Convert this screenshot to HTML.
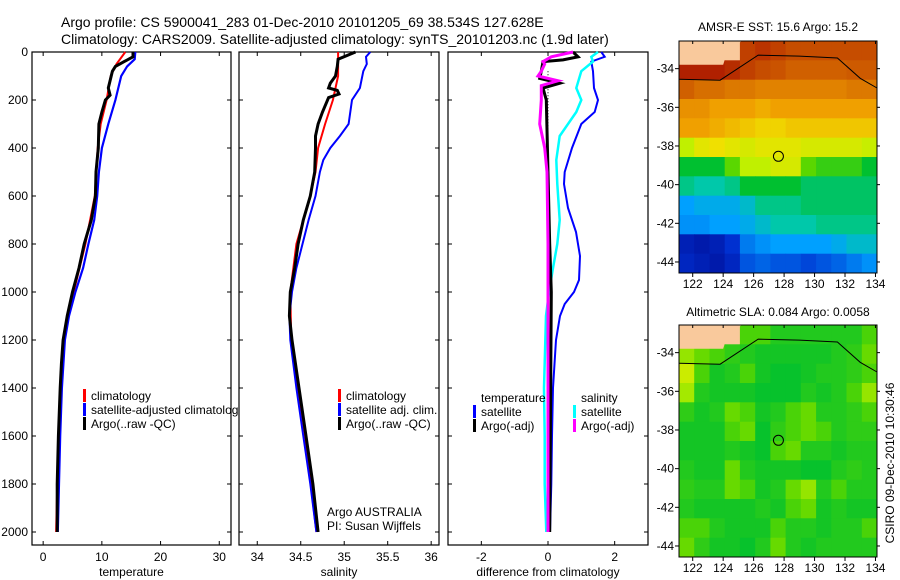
<!DOCTYPE html>
<html><head><meta charset="utf-8"><style>
body{margin:0;background:#fff;}
svg{display:block;font-family:"Liberation Sans",sans-serif;}
text{fill:#000;}
</style></head><body>
<svg id="fig" width="900" height="580" viewBox="0 0 900 580">
<defs><clipPath id="c1"><rect x="0" y="0" width="238" height="580"/></clipPath></defs>
<text x="61" y="27" font-size="14">Argo profile: CS 5900041_283 01-Dec-2010 20101205_69 38.534S 127.628E</text>
<text x="61" y="44" font-size="14">Climatology: CARS2009. Satellite-adjusted climatology: synTS_20101203.nc (1.9d later)</text>
<g id="g1" clip-path="url(#c1)"></g>
<g id="g2"></g>
<g id="g3"></g>
<g id="m1"></g>
<g id="m2"></g>
<text x="778" y="31" font-size="12" text-anchor="middle">AMSR-E SST: 15.6 Argo: 15.2</text>
<text x="778" y="316" font-size="12" text-anchor="middle">Altimetric SLA: 0.084 Argo: 0.0058</text>
<text transform="translate(894,463) rotate(-90)" font-size="12" text-anchor="middle">CSIRO 09-Dec-2010 10:30:46</text>
</svg>
<script>
const tDepth = [0,20,40,60,80,150,180,200,250,300,400,500,600,700,800,900,1000,1100,1200,1300,1400,1600,1800,2000];
const tArgo  = [15.3,15.3,13.8,12.3,11.8,11.1,11.4,10.6,10,9.5,9.4,9,8.9,8.2,7,6.1,5,4.1,3.4,3.1,2.9,2.6,2.4,2.4];
const tClimDepth = [0,50,100,200,300,400,600,800,1000,1200,1400,1600,2000];
const tClim  = [14,12.5,11.5,10.8,9.8,9.3,8.8,7.2,5.2,3.5,3,2.6,2.2];
const tSatDepth = [0,30,60,100,200,300,400,500,600,700,800,900,1000,1100,1200,1400,1600,1800,2000];
const tSat   = [15.7,15.6,14.3,13.3,12.3,11.1,10,9.5,9.2,8.7,7.7,6.8,5.5,4.4,3.7,3.2,2.9,2.7,2.5];

const sArgoDepth = [0,30,60,100,130,150,160,175,190,250,300,350,400,500,600,700,800,900,1000,1100,1200,1400,1600,1800,2000];
const sArgo = [35.13,34.93,34.92,34.9,34.84,34.82,34.92,34.94,34.82,34.75,34.7,34.67,34.67,34.66,34.61,34.53,34.47,34.43,34.38,34.37,34.4,34.48,34.56,34.64,34.7];
const sClimDepth = [0,100,200,300,400,500,600,800,1000,1200,1600,2000];
const sClim = [34.93,34.93,34.87,34.78,34.7,34.67,34.61,34.45,34.38,34.39,34.55,34.68];
const sSatDepth = [0,20,50,80,150,200,300,350,400,450,500,600,700,800,900,1000,1100,1200,1400,1600,1800,2000];
const sSat = [35.3,35.25,35.26,35.22,35.18,35.09,35.05,34.95,34.84,34.76,34.72,34.67,34.59,34.52,34.45,34.4,34.37,34.38,34.45,34.53,34.61,34.68];

const dTArgoDepth = [0,20,33,40,80,110,130,150,200,500,800,1000,2000];
const dTArgo = [0.75,0.9,0.45,-0.15,-0.2,-0.25,0.35,-0.15,-0.05,0,0.05,0.1,0.05];
const dSArgoDepth = [0,20,40,50,80,100,120,140,200,300,400,500,800,1000,2000];
const dSArgo = [0.75,0.1,-0.15,-0.1,-0.2,-0.3,0.3,-0.2,-0.2,-0.25,-0.1,-0.03,0,0,0];
const dSSatDepth = [0,20,40,80,150,200,250,350,450,550,700,800,900,1000,1100,1400,1600,1800,2000];
const dSSat = [1.5,1.3,1.35,1.0,0.85,1.0,0.85,0.35,0.25,0.28,0.35,0.28,0.15,0.03,-0.06,-0.12,-0.1,-0.1,-0.05];
const dTSatDepth = [0,20,40,80,150,200,250,300,400,500,550,650,750,850,950,1000,1050,1100,1200,1400,1600,1800,2000];
const dTSat = [1.6,1.7,1.3,1.35,1.38,1.5,1.4,1.0,0.72,0.5,0.48,0.6,0.84,0.96,0.93,0.78,0.5,0.36,0.24,0.15,0.12,0.1,0.06];

const depthTicks = [0,200,400,600,800,1000,1200,1400,1600,1800,2000];
const tTicks = [0,10,20,30];
const sTicks = [34,34.5,35,35.5,36];
const sTickLabels = ["34","34.5","35","35.5","36"];
const dTicks = [-2,0,2];

const sstRows = [
[null,null,null,null,0.9,0.92,0.9,0.88,0.88,0.88,0.88,0.88,0.88],
[0.95,0.95,0.95,0.93,0.9,0.88,0.87,0.85,0.85,0.85,0.85,0.86,0.86],
[0.85,0.82,0.82,0.8,0.8,0.78,0.78,0.78,0.78,0.78,0.78,0.8,0.8],
[0.75,0.75,0.72,0.72,0.72,0.7,0.72,0.72,0.72,0.72,0.72,0.72,0.72],
[0.72,0.72,0.7,0.68,0.66,0.64,0.64,0.66,0.66,0.66,0.66,0.66,0.66],
[0.55,0.6,0.62,0.6,0.58,0.6,0.6,0.6,0.58,0.58,0.58,0.58,0.56],
[0.45,0.45,0.45,0.5,0.55,0.55,0.58,0.58,0.5,0.48,0.48,0.48,0.45],
[0.4,0.38,0.38,0.4,0.45,0.45,0.45,0.45,0.42,0.42,0.42,0.42,0.42],
[0.3,0.32,0.32,0.32,0.35,0.4,0.4,0.4,0.42,0.42,0.42,0.42,0.42],
[0.28,0.28,0.3,0.3,0.32,0.35,0.38,0.38,0.38,0.4,0.4,0.4,0.4],
[0.1,0.08,0.1,0.15,0.25,0.28,0.3,0.3,0.3,0.3,0.32,0.35,0.35],
[0.12,0.1,0.08,0.12,0.2,0.22,0.2,0.2,0.18,0.2,0.22,0.25,0.28]];
const slaRows = [
[null,null,null,null,0.5,0.5,0.47,0.47,0.47,0.47,0.47,0.47,0.5],
[0.55,0.52,0.5,0.48,0.47,0.46,0.46,0.46,0.46,0.46,0.47,0.48,0.52],
[0.6,0.5,0.46,0.47,0.5,0.46,0.45,0.45,0.46,0.47,0.47,0.48,0.5],
[0.56,0.47,0.46,0.46,0.46,0.45,0.45,0.45,0.47,0.46,0.47,0.5,0.55],
[0.48,0.46,0.47,0.52,0.5,0.46,0.47,0.5,0.52,0.47,0.47,0.48,0.5],
[0.46,0.46,0.46,0.5,0.52,0.45,0.48,0.5,0.52,0.5,0.47,0.48,0.48],
[0.46,0.46,0.46,0.47,0.46,0.45,0.5,0.52,0.47,0.47,0.46,0.47,0.47],
[0.47,0.46,0.46,0.52,0.47,0.46,0.46,0.46,0.45,0.45,0.47,0.48,0.47],
[0.48,0.47,0.47,0.52,0.5,0.46,0.47,0.52,0.55,0.47,0.5,0.47,0.47],
[0.47,0.46,0.46,0.46,0.46,0.47,0.46,0.5,0.52,0.46,0.47,0.46,0.46],
[0.5,0.5,0.47,0.46,0.46,0.46,0.5,0.47,0.47,0.46,0.47,0.47,0.5],
[0.52,0.48,0.46,0.46,0.45,0.47,0.52,0.47,0.46,0.47,0.47,0.47,0.47]];
const lonTicks = [122,124,126,128,130,132,134];
const latTicks = [-34,-36,-38,-40,-42,-44];
const floatLon = 127.628, floatLat = -38.534;
const coastLon = [121.1,123.8,126.3,129,131.5,133,134.1];
const coastLat = [-34.55,-34.6,-33.3,-33.35,-33.45,-34.5,-35.0];

const NS="http://www.w3.org/2000/svg";
function mk(p,tag,attrs){const e=document.createElementNS(NS,tag);for(const k in attrs)e.setAttribute(k,attrs[k]);p.appendChild(e);return e;}
const yD = d => 52 + d*0.24;

function panel(gid,x0,x1,xmin,xmax,ticks,labels,xlabel,showY){
  const g=document.getElementById(gid);
  const sx = v => x0 + (v-xmin)/(xmax-xmin)*(x1-x0);
  const fr=mk(g,'rect',{x:x0,y:52,width:x1-x0,height:493,fill:'none',stroke:'#000','stroke-width':1.2});
  
  
  ticks.forEach((t,i)=>{
    const x=sx(t);
    mk(g,'line',{x1:x,y1:545,x2:x,y2:541,stroke:'#000'});
    mk(g,'line',{x1:x,y1:52,x2:x,y2:56,stroke:'#000'});
    const tx=mk(g,'text',{x:x,y:561,'font-size':12,'text-anchor':'middle'});
    tx.textContent=labels[i];
    
    
  });
  depthTicks.forEach(d=>{
    mk(g,'line',{x1:x0,y1:yD(d),x2:x0+4,y2:yD(d),stroke:'#000'});
    mk(g,'line',{x1:x1,y1:yD(d),x2:x1-4,y2:yD(d),stroke:'#000'});
    if(showY){const t=mk(g,'text',{x:x0-4,y:yD(d)+4,'font-size':12,'text-anchor':'end'});t.textContent=d;
      
      }
  });
  const xl=mk(g,'text',{x:(x0+x1)/2,y:576,'font-size':12,'text-anchor':'middle'});
  xl.textContent=xlabel;
  
  
  return {g,sx};
}
function line(P,depths,vals,color,w,name,dash){
  const pts=depths.map((d,i)=>P.sx(vals[i]).toFixed(1)+','+yD(d).toFixed(1)).join(' ');
  const a={points:pts,fill:'none',stroke:color,'stroke-width':w,'stroke-linejoin':'miter'};
  if(dash)a['stroke-dasharray']=dash;
  const l=mk(P.g,'polyline',a);
  
  
}
function legend(g,x,y,color,label){
  mk(g,'rect',{x:x,y:y-9,width:3,height:13,fill:color});
  const t=mk(g,'text',{x:x+8,y:y+2,'font-size':12});t.textContent=label;
  
  
}

const P1=panel('g1',32,231,-1.9,32,tTicks,tTicks.map(String),'temperature',true);
line(P1,tClimDepth,tClim,'#f00',2,'temperature-climatology-line');
line(P1,tSatDepth,tSat,'#00f',2.2,'temperature-satellite-line');
line(P1,tDepth,tArgo,'#000',3,'temperature-argo-line');
legend(P1.g,83,398,'#f00','climatology');
legend(P1.g,83,412,'#00f','satellite-adjusted climatology');
legend(P1.g,83,426,'#000','Argo(..raw -QC)');

const P2=panel('g2',239,439,33.79,36.09,sTicks,sTickLabels,'salinity',false);
line(P2,sClimDepth,sClim,'#f00',2,'salinity-climatology-line');
line(P2,sSatDepth,sSat,'#00f',2,'salinity-satellite-line');
line(P2,sArgoDepth,sArgo,'#000',3,'salinity-argo-line');
legend(P2.g,338,398,'#f00','climatology');
legend(P2.g,338,412,'#00f','satellite adj. clim.');
legend(P2.g,338,426,'#000','Argo(..raw -QC)');
let t=mk(P2.g,'text',{x:327,y:516,'font-size':12});t.textContent='Argo AUSTRALIA';


t=mk(P2.g,'text',{x:327,y:530,'font-size':12});t.textContent='PI: Susan Wijffels';



const P3=panel('g3',448,648,-3,3,dTicks,dTicks.map(String),'difference from climatology',false);
line(P3,[80,2000],[0,0],'#000',1,'zero-reference-line','1,2');
line(P3,dTSatDepth,dTSat,'#00f',2,'temperature-satellite-diff-line');
line(P3,dSSatDepth,dSSat,'#0ff',2.5,'salinity-satellite-diff-line');
line(P3,dTArgoDepth,dTArgo,'#000',3,'temperature-argo-diff-line');
line(P3,dSArgoDepth,dSArgo,'#f0f',3,'salinity-argo-diff-line');
t=mk(P3.g,'text',{x:481,y:402,'font-size':12});t.textContent='temperature';


t=mk(P3.g,'text',{x:581,y:402,'font-size':12});t.textContent='salinity';


legend(P3.g,473,414,'#00f','satellite');
legend(P3.g,473,428,'#000','Argo(-adj)');
legend(P3.g,573,414,'#0ff','satellite');
legend(P3.g,573,428,'#f0f','Argo(-adj)');

const cstops=[[0,[0,0,128]],[0.15,[0,48,208]],[0.3,[0,160,255]],[0.38,[0,200,170]],[0.45,[0,192,48]],[0.5,[90,215,0]],[0.55,[192,240,0]],[0.62,[240,224,0]],[0.72,[240,160,0]],[0.85,[208,96,0]],[1,[160,0,0]]];
function cmap(v){for(let i=1;i<cstops.length;i++){if(v<=cstops[i][0]){const a=cstops[i-1],b=cstops[i],f=(v-a[0])/(b[0]-a[0]);const c=a[1].map((x,k)=>Math.round(x+(b[1][k]-x)*f));return 'rgb('+c.join(',')+')';}}return 'rgb(160,0,0)';}
function drawMap(gid,y0,rows,nm,scale){
  const g=document.getElementById(gid);
  const x0=679,x1=877,y1=y0+232,lon0=121.1,lon1=134.1,lat0=-32.57,lat1=-44.57;
  const sx=l=>x0+(l-lon0)/(lon1-lon0)*(x1-x0);
  const sy=l=>y0+(l-lat0)/(lat1-lat0)*(y1-y0);
  mk(g,'rect',{x:x0,y:y0,width:x1-x0,height:y1-y0,fill:'#f9c99c'});
  rows.forEach((r,j)=>r.forEach((v,i)=>{
    if(v===null)return;
    const c=mk(g,'rect',{x:sx(lon0+i).toFixed(1),y:sy(lat0-j).toFixed(1),width:(sx(lon0+i+1)-sx(lon0+i)+0.5).toFixed(1),height:(sy(lat0-j-1)-sy(lat0-j)+0.5).toFixed(1),fill:cmap(scale(v))});
    
    
  }));
  mk(g,'polygon',{points:`${x0},${y0} ${sx(125.2)},${y0} ${sx(124.2)},${sy(-33.3)} ${sx(124)},${sy(-33.8)} ${x0},${sy(-33.8)}`,fill:'#f9c99c'});
  const cp=coastLon.map((l,i)=>sx(l).toFixed(1)+','+sy(coastLat[i]).toFixed(1)).join(' ');
  const cl=mk(g,'polyline',{points:cp,fill:'none',stroke:'#000','stroke-width':1});
  
  
  mk(g,'rect',{x:x0,y:y0,width:x1-x0,height:y1-y0,fill:'none',stroke:'#000','stroke-width':1});
  lonTicks.forEach(l=>{const x=sx(l);mk(g,'line',{x1:x,y1:y0,x2:x,y2:y0+3,stroke:'#000'});mk(g,'line',{x1:x,y1:y1,x2:x,y2:y1+4,stroke:'#000'});
    const tx=mk(g,'text',{x:x,y:y1+15,'font-size':12,'text-anchor':'middle'});tx.textContent=l;
    
    });
  latTicks.forEach(l=>{const y=sy(l);mk(g,'line',{x1:x0,y1:y,x2:x0-4,y2:y,stroke:'#000'});mk(g,'line',{x1:x1,y1:y,x2:x1+3,y2:y,stroke:'#000'});
    const tx=mk(g,'text',{x:x0-5,y:y+4,'font-size':12,'text-anchor':'end'});tx.textContent=l;
    
    });
  const fc=mk(g,'circle',{cx:sx(floatLon),cy:sy(floatLat),r:5,fill:'none',stroke:'#000','stroke-width':1});
  
  
}
drawMap('m1',41,sstRows,'sst',v=>v);
drawMap('m2',325,slaRows,'sla',v=>0.465+(v-0.465)*0.75);
</script>
</body></html>
